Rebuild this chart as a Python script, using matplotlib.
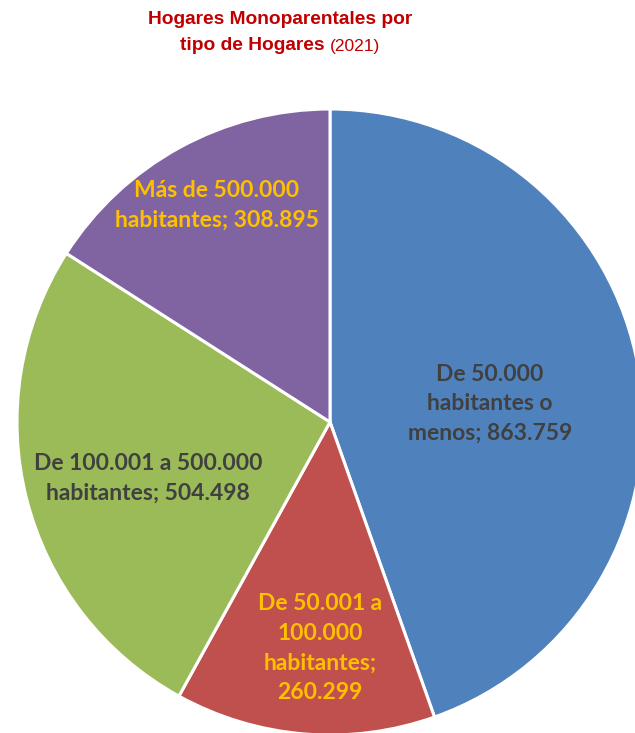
import matplotlib.pyplot as plt

# data
categories = ["De 50.000\nhabitantes o\nmenos", "De 50.001 a\n100.000\nhabitantes",
              "De 100.001 a 500.000\nhabitantes", "Más de 500.000\nhabitantes"]
values = [863759, 260299, 504498, 308895]
value_labels = ["863.759", "260.299", "504.498", "308.895"]
sep = [" ", "\n", " ", " "]

colors = ['#4F81BD', '#C0504D', '#9BBB59', '#8064A2']
label_colors = ['#404040', '#FFC000', '#404040', '#FFC000']
# label centres in pixels (x, y from top)
label_pos = [(490, 404), (320, 648), (148, 478), (217, 205)]

W, H = 635, 733
fig = plt.figure(figsize=(W / 100, H / 100), dpi=100)
ax = fig.add_axes([0, 0, 1, 1])

ax.pie(values, colors=colors, startangle=90, counterclock=False,
       center=(330, H - 422), radius=313,
       wedgeprops=dict(edgecolor='white', linewidth=2.2))
ax.set_xlim(0, W)
ax.set_ylim(0, H)
ax.set_aspect('equal')
ax.axis('off')

for cat, v, s, c, (x, y) in zip(categories, value_labels, sep, label_colors, label_pos):
    ax.text(x, H - y, cat + ";" + s + v, ha='center', va='center', color=c,
            fontsize=16.5, fontweight='bold', family='Lato', linespacing=1.5)

# title
fig.text(280 / W, 1 - 20 / H, "Hogares Monoparentales por", ha='center', va='center',
         color='#C00000', fontsize=13.8, fontweight='bold', family='Liberation Sans')
t1 = fig.text(0, 0, "tipo de Hogares ", color='#C00000', fontsize=13.8,
              fontweight='bold', family='Liberation Sans')
t2 = fig.text(0, 0, "(2021)", color='#C00000', fontsize=12.5, family='Liberation Sans')
r = fig.canvas.get_renderer()
w1 = t1.get_window_extent(r).width
w2 = t2.get_window_extent(r).width
x0 = 280 - (w1 + w2) / 2
t1.set_position((x0 / W, 1 - 46 / H))
t1.set_va('center')
t2.set_position(((x0 + w1) / W, 1 - 46 / H))
t2.set_va('center')

fig.savefig('out.png', dpi=100)
